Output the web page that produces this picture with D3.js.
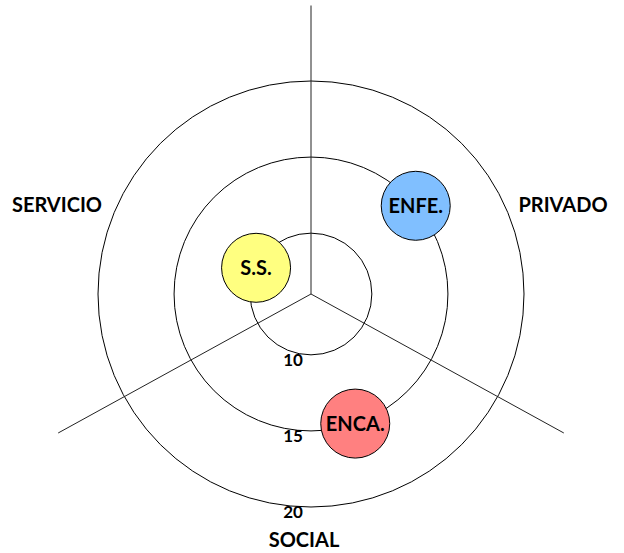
<!DOCTYPE html>
<html>
<head>
<meta charset="utf-8">
<script src="https://cdn.jsdelivr.net/npm/d3@7"></script>
<style>
  body { margin: 0; background: #fff; }
  text { font-family: Lato, "Open Sans", sans-serif; font-weight: bold; fill: #000; }
</style>
</head>
<body>
<div id="chart"></div>
<script>
// sectors, clockwise from the top axis
var sectors = ['PRIVADO', 'SOCIAL', 'SERVICIO'];
var ringTicks = [10, 15, 20];

// bubbles: label, sector, position inside the sector (0..1), ring value, colour
var bubbleLabels = ['S.S.', 'ENFE.', 'ENCA.'];
var bubbleSectors = ['SERVICIO', 'PRIVADO', 'SOCIAL'];
var bubbleOffsets = [0.457, 0.42, 0.346];
var bubbleValues = [10, 15, 15];
var bubbleColors = ['#ffff80', '#80bfff', '#ff8080'];

var width = 624, height = 553;
var cx = 311, cy = 294;

var svg = d3.select('#chart').append('svg')
    .attr('width', width)
    .attr('height', height);

var g = svg.append('g').attr('transform', 'translate(' + cx + ',' + cy + ')');

var r = d3.scaleLinear().domain([6, 20]).range([0, 213]);
var axisLen = 288.5;

// sector boundary angles (degrees, screen coords, 0 = right)
var bounds = [-90, 28.8, 151.2, 270];
var sectorIdx = d3.scaleOrdinal().domain(sectors).range([0, 1, 2]);

function angleOf(sector, offset) {
    var i = sectorIdx(sector);
    var a = d3.scaleLinear().domain([0, 1]).range([bounds[i], bounds[i + 1]]);
    return a(offset) * Math.PI / 180;
}

// rings
g.selectAll('circle.ring')
    .data(ringTicks)
    .enter().append('circle')
    .attr('class', 'ring')
    .attr('r', d => r(d))
    .attr('fill', 'none')
    .attr('stroke', '#000')
    .attr('stroke-width', 1);

// axis lines at sector boundaries
g.selectAll('line.axis')
    .data(sectors)
    .enter().append('line')
    .attr('class', 'axis')
    .attr('x1', 0).attr('y1', 0)
    .attr('x2', d => axisLen * Math.cos(angleOf(d, 0)))
    .attr('y2', d => axisLen * Math.sin(angleOf(d, 0)))
    .attr('stroke', '#222')
    .attr('stroke-width', 1);

// ring labels
g.selectAll('text.tick')
    .data(ringTicks)
    .enter().append('text')
    .attr('class', 'tick')
    .attr('x', -18)
    .attr('y', d => r(d) + 11)
    .attr('text-anchor', 'middle')
    .attr('font-size', 17)
    .text(d => d);

// sector labels
var labelPos = {
    'PRIVADO': [252, -82],
    'SOCIAL': [-7, 253],
    'SERVICIO': [-254, -82]
};
g.selectAll('text.sector')
    .data(sectors)
    .enter().append('text')
    .attr('class', 'sector')
    .attr('x', d => labelPos[d][0])
    .attr('y', d => labelPos[d][1])
    .attr('text-anchor', 'middle')
    .attr('font-size', 20)
    .text(d => d);

// bubbles
var bubbles = bubbleLabels.map((lab, i) => ({
    label: lab,
    angle: angleOf(bubbleSectors[i], bubbleOffsets[i]),
    value: bubbleValues[i],
    color: bubbleColors[i]
}));

var node = g.selectAll('g.bubble')
    .data(bubbles)
    .enter().append('g')
    .attr('class', 'bubble')
    .attr('transform', d => 'translate(' + (r(d.value) * Math.cos(d.angle)) + ',' + (r(d.value) * Math.sin(d.angle)) + ')');

node.append('circle')
    .attr('r', 34.5)
    .attr('fill', d => d.color)
    .attr('stroke', '#000')
    .attr('stroke-width', 1);

node.append('text')
    .attr('text-anchor', 'middle')
    .attr('dy', '0.36em')
    .attr('font-size', 20)
    .text(d => d.label);
</script>
</body>
</html>
